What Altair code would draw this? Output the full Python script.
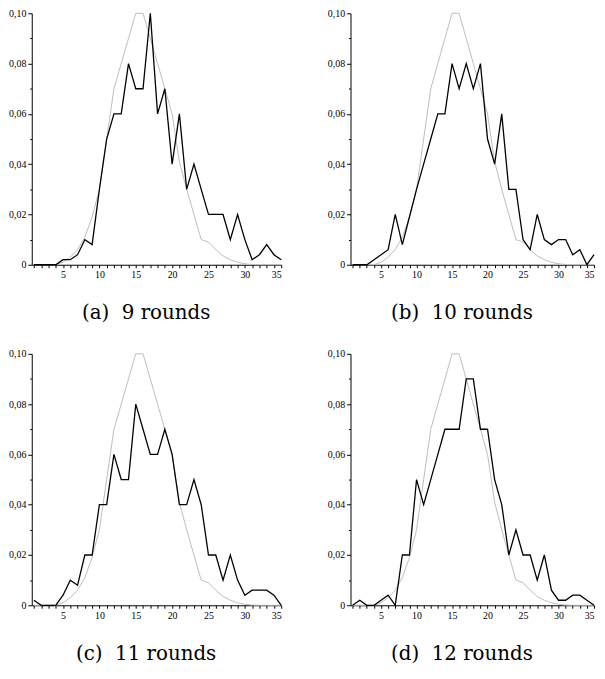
import altair as alt
import pandas as pd

k_values = list(range(1, 36))

theory = [0, 0, 0, 0, 0.001, 0.003, 0.006, 0.011, 0.019, 0.03,
          0.05, 0.07, 0.08, 0.09, 0.10, 0.10, 0.09, 0.08, 0.07, 0.06,
          0.041, 0.03, 0.02, 0.01, 0.009, 0.006, 0.0035, 0.002, 0.001, 0.0004,
          0.0001, 0, 0, 0, 0]

rounds9 = [0, 0, 0, 0, 0.002, 0.002, 0.004, 0.01, 0.008, 0.03,
           0.05, 0.06, 0.06, 0.08, 0.07, 0.07, 0.10, 0.06, 0.07, 0.04,
           0.06, 0.03, 0.04, 0.03, 0.02, 0.02, 0.02, 0.01, 0.02, 0.01,
           0.002, 0.004, 0.008, 0.004, 0.002]

rounds10 = [0, 0, 0, 0.002, 0.004, 0.006, 0.02, 0.008, 0.019, 0.03,
            0.04, 0.05, 0.06, 0.06, 0.08, 0.07, 0.08, 0.07, 0.08, 0.05,
            0.04, 0.06, 0.03, 0.03, 0.01, 0.006, 0.02, 0.01, 0.008, 0.01,
            0.01, 0.004, 0.006, 0, 0.004]

rounds11 = [0.002, 0, 0, 0, 0.004, 0.01, 0.008, 0.02, 0.02, 0.04,
            0.04, 0.06, 0.05, 0.05, 0.08, 0.07, 0.06, 0.06, 0.07, 0.06,
            0.04, 0.04, 0.05, 0.04, 0.02, 0.02, 0.01, 0.02, 0.01, 0.004,
            0.006, 0.006, 0.006, 0.004, 0]

rounds12 = [0, 0.002, 0, 0, 0.002, 0.004, 0, 0.02, 0.02, 0.05,
            0.04, 0.05, 0.06, 0.07, 0.07, 0.07, 0.09, 0.09, 0.07, 0.07,
            0.05, 0.04, 0.02, 0.03, 0.02, 0.02, 0.01, 0.02, 0.006, 0.002,
            0.002, 0.004, 0.004, 0.002, 0]

captions = ["(a)\u00a0\u00a09 rounds", "(b)\u00a0\u00a010 rounds",
            "(c)\u00a0\u00a011 rounds", "(d)\u00a0\u00a012 rounds"]

y_ticks = [i / 100 for i in range(11)]

x_axis = alt.Axis(
    values=k_values,
    labelExpr="datum.value % 5 == 0 ? datum.value : ''",
    grid=False, domainColor="black", domainWidth=1,
    tickColor="black", tickSize=3, tickWidth=1,
    labelFont="Liberation Serif", labelFontSize=10, labelColor="black",
    labelPadding=2, title=None, labelOverlap=False,
)

y_axis = alt.Axis(
    values=y_ticks,
    labelExpr="round(datum.value*100) % 2 == 1 ? '' : (datum.value == 0 ? '0' : replace(format(datum.value, '.2f'), '.', ','))",
    grid=False, domainColor="black", domainWidth=1,
    tickColor="black", tickWidth=1,
    tickSize={"condition": {"test": "round(datum.value*100) % 2 == 1", "value": 2}, "value": 4},
    labelFont="Liberation Serif", labelFontSize=10, labelColor="black",
    labelPadding=2, title=None, labelOverlap=False,
)


def panel(series, caption, width):
    df = pd.DataFrame({"k": k_values, "theory": theory, "observed": series})
    base = alt.Chart(df)
    x = alt.X("k:Q", scale=alt.Scale(domain=[0.7, 35], nice=False, zero=False), axis=x_axis)
    gray = base.mark_line(color="#bdbdbd", strokeWidth=1).encode(
        x=x,
        y=alt.Y("theory:Q", scale=alt.Scale(domain=[0, 0.1], nice=False), axis=y_axis),
    )
    black = base.mark_line(color="black", strokeWidth=1.3).encode(
        x=x,
        y=alt.Y("observed:Q", scale=alt.Scale(domain=[0, 0.1], nice=False), axis=y_axis),
    )
    return alt.layer(gray, black).properties(
        width=width, height=254,
        title=alt.TitleParams(
            caption, orient="bottom", frame="bounds", anchor="middle",
            font="DejaVu Serif", fontSize=20, fontWeight="normal",
            color="black", offset=24,
        ),
    )


top = alt.hconcat(panel(rounds9, captions[0], 252), panel(rounds10, captions[1], 246), spacing=43)
bottom = alt.hconcat(panel(rounds11, captions[2], 252), panel(rounds12, captions[3], 246), spacing=43)

chart = alt.vconcat(top, bottom, spacing=26).properties(
    padding={"top": -3, "left": 0, "right": 0, "bottom": 0}
).configure_view(stroke=None)

chart.save("out.html", embed_options={"renderer": "svg", "actions": False})
